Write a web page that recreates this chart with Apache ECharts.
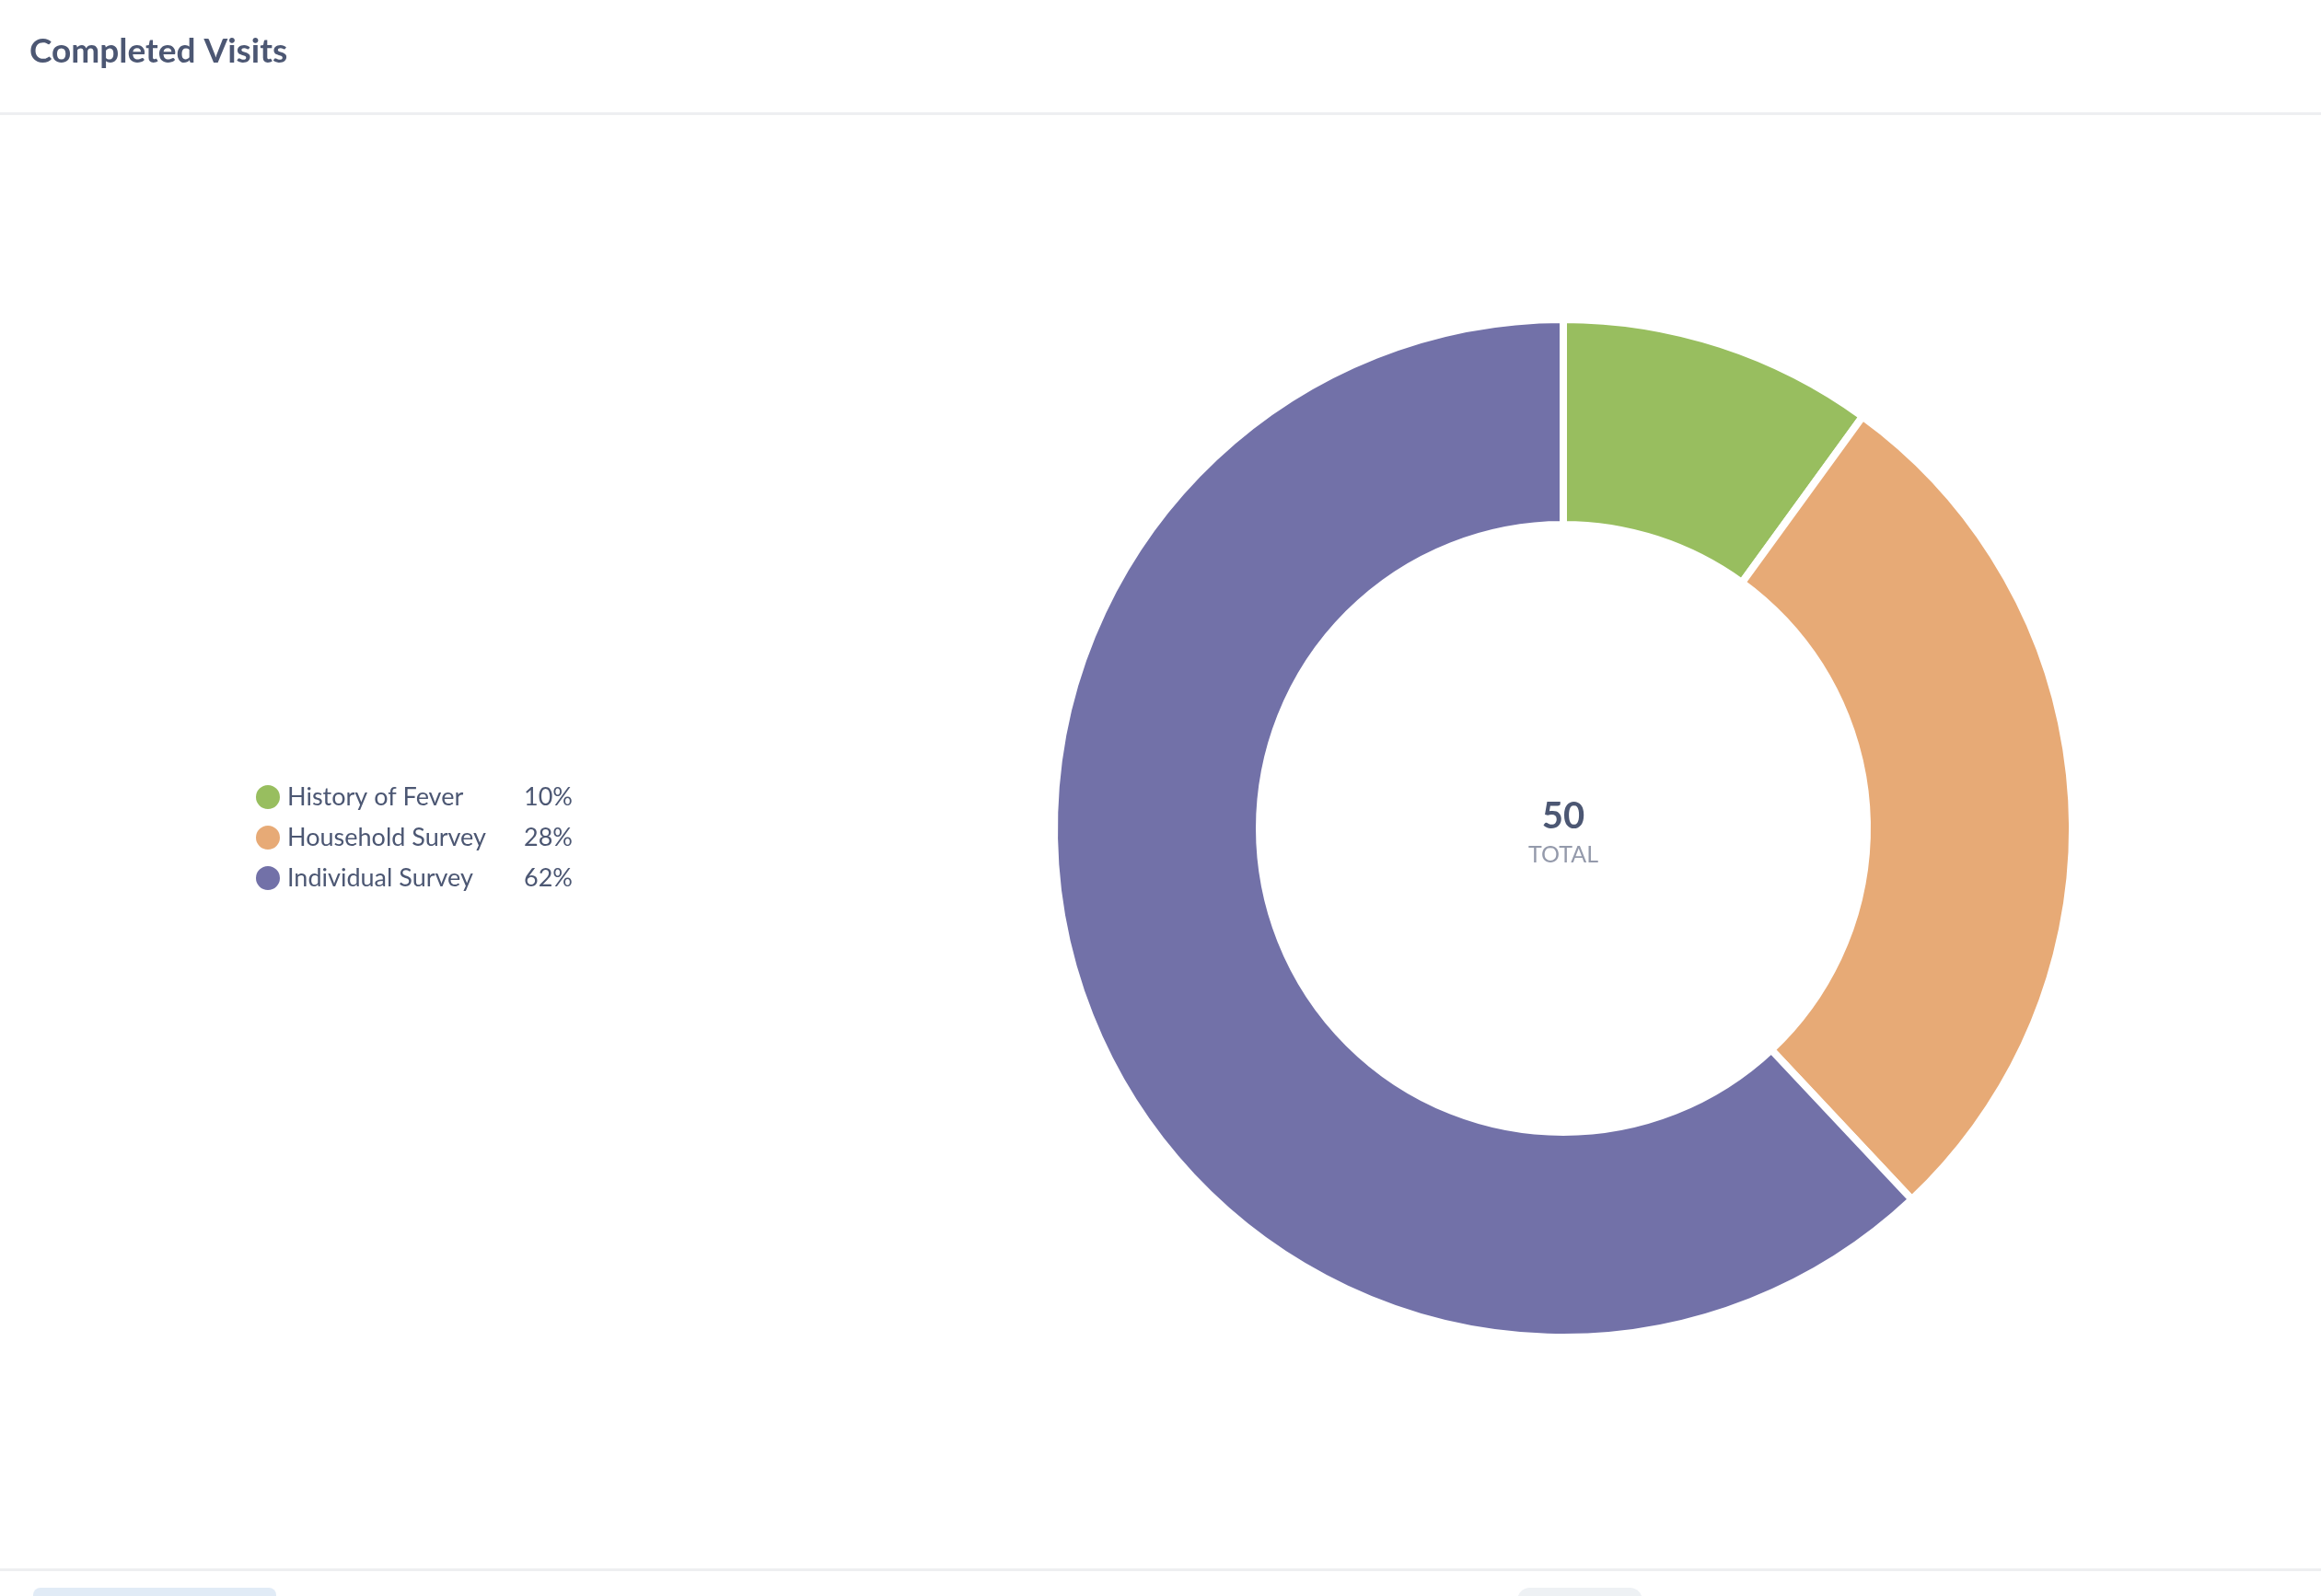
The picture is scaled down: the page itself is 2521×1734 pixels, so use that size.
<!DOCTYPE html>
<html>
<head>
<meta charset="utf-8">
<script src="https://cdn.jsdelivr.net/npm/echarts@6/dist/echarts.min.js"></script>
<style>
    html, body { margin: 0; padding: 0; background: #fff; }
    #main { width: 2521px; height: 1734px; }
</style>
</head>
<body>
<div id="main"></div>
<script>
// ---------- data ----------
var names = ['History of Fever', 'Household Survey', 'Individual Survey'];
var counts = [5, 14, 31];
var colors = ['#98BE5F', '#E7AA76', '#7271A8'];
var total = 50;

var myChart = echarts.init(document.getElementById('main'));
var pieData = names.map(function (n, i) {
    return { name: n, value: counts[i], itemStyle: { color: colors[i] } };
});

var option = {
    backgroundColor: '#fff',
    textStyle: { fontFamily: 'Lato' },
    graphic: [
        { type: 'text', left: 32, top: 38, style: { text: 'Completed Visits', font: 'bold 37px Lato', fill: '#4C5773' } },
        { type: 'rect', shape: { x: 0, y: 122, width: 2521, height: 3 }, style: { fill: '#EEEFF1' } },
        { type: 'rect', shape: { x: 0, y: 1704, width: 2521, height: 3 }, style: { fill: '#EEEFF1' } },
        { type: 'rect', shape: { x: 36, y: 1725, width: 264, height: 30, r: 8 }, style: { fill: '#E1EBF6' } },
        { type: 'rect', shape: { x: 1648, y: 1725, width: 136, height: 30, r: 14 }, style: { fill: '#EEF1F4' } },
        { type: 'text', x: 1698, y: 887, style: { text: String(total), font: 'bold 40px Lato', fill: '#4C5773', align: 'center', verticalAlign: 'middle' } },
        { type: 'text', x: 1698, y: 929, style: { text: 'TOTAL', font: '25px Lato', fill: '#949AAB', align: 'center', verticalAlign: 'middle' } }
    ],
    legend: {
        orient: 'vertical',
        left: 271,
        top: 846,
        itemWidth: 28,
        itemHeight: 28,
        itemGap: 14,
        icon: 'circle',
        selectedMode: false,
        data: names,
        formatter: function (name) {
            var i = names.indexOf(name);
            return '{n|' + name + '}{p|' + Math.round(counts[i] / total * 100) + '%}';
        },
        textStyle: {
            rich: {
                n: { fontSize: 27, fontFamily: 'Lato', color: '#4C5773', width: 250, padding: [0, 0, 0, 2] },
                p: { fontSize: 27, fontFamily: 'Lato', color: '#4C5773', width: 60, align: 'right' }
            }
        }
    },
    series: [{
        type: 'pie',
        center: [1698, 900],
        radius: [330, 553],
        startAngle: 90,
        clockwise: true,
        silent: true,
        label: { show: false },
        labelLine: { show: false },
        itemStyle: { borderColor: '#fff', borderWidth: 8 },
        data: pieData
    }]
};
myChart.setOption(option);
</script>
</body>
</html>
